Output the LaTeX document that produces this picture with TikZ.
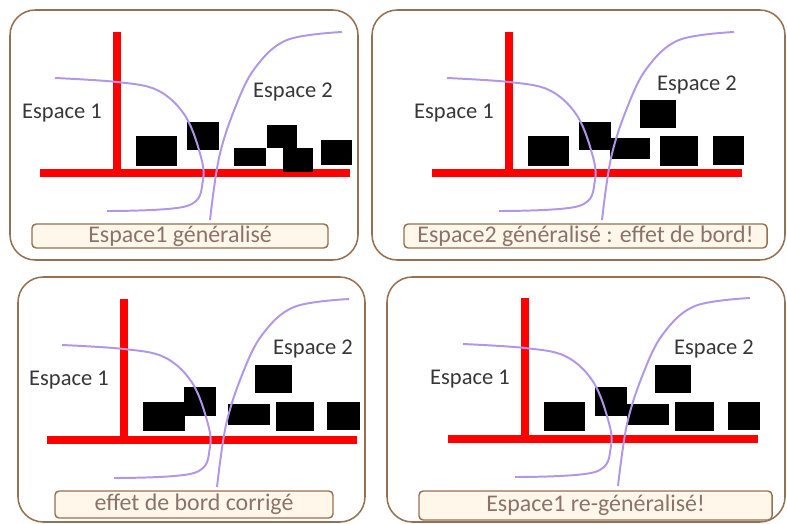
\documentclass[tikz,border=0pt]{standalone}
\usepackage{fontspec}
\setmainfont{Carlito}
\usepackage{tikz}
\definecolor{framebrown}{RGB}{150,112,82}
\definecolor{labeltext}{RGB}{140,115,105}
\definecolor{labelfill}{RGB}{255,247,234}
\definecolor{curvelilac}{RGB}{178,150,232}
\definecolor{espacegray}{RGB}{55,55,55}

\begin{document}
\begin{tikzpicture}[x=0.025cm, y=-0.025cm,
        frame/.style={draw=framebrown, line width=1.1pt, rounded corners=18pt},
        axis/.style={draw=red, line width=5.3pt},
        block/.style={fill=black},
        curve/.style={draw=curvelilac, line width=1.4pt},
        espace/.style={font=\fontsize{16}{18}\selectfont, text=espacegray, inner sep=0pt},
        labelbox/.style={draw=framebrown, fill=labelfill, rounded corners=3pt,
                         line width=1pt, inner sep=0pt, text=labeltext,
                         font=\fontsize{17}{19}\selectfont},
    ]
        \useasboundingbox (0,0) rectangle (787,524);

        % Frames
        \draw[frame] (10,10)   rectangle (358,260);
        \draw[frame] (372,10)  rectangle (785,260);
        \draw[frame] (18,277)  rectangle (365,522);
        \draw[frame] (387,277) rectangle (785,522);

        % Axes
        \foreach \sx/\sy in {0/0, 392/0, 7/267, 408/266} {
            \begin{scope}[shift={(\sx,\sy)}]
                \draw[axis] (117,32) -- (117,170);
                \draw[axis] (40,173) -- (350,173);
            \end{scope}
        }

        % Blocks
        \begin{scope}
            \fill[block] (136,136) rectangle (177,166);
            \fill[block] (187,122) rectangle (219,150);
            \fill[block] (234,148) rectangle (266,166);
            \fill[block] (267,125) rectangle (297,148);
            \fill[block] (283,148) rectangle (313,172);
            \fill[block] (321,140) rectangle (352,165);
        \end{scope}
        \begin{scope}[shift={(392,0)}]
            \fill[block] (136,136) rectangle (177,166);
            \fill[block] (187,122) rectangle (219,150);
            \fill[block] (218,138) rectangle (258,159);
            \fill[block] (248,100) rectangle (284,128);
            \fill[block] (268,136) rectangle (306,166);
            \fill[block] (321,136) rectangle (352,165);
        \end{scope}
        \begin{scope}[shift={(7,267)}]
            \fill[block] (136,135) rectangle (178,164);
            \fill[block] (177,120) rectangle (209,149);
            \fill[block] (221,137) rectangle (263,158);
            \fill[block] (248,98)  rectangle (285,126);
            \fill[block] (269,135) rectangle (307,164);
            \fill[block] (320,135) rectangle (353,163);
        \end{scope}
        \begin{scope}[shift={(408,266)}]
            \fill[block] (136,136) rectangle (177,165);
            \fill[block] (187,121) rectangle (219,150);
            \fill[block] (219,138) rectangle (261,159);
            \fill[block] (247,99)  rectangle (283,127);
            \fill[block] (267,136) rectangle (306,165);
            \fill[block] (320,136) rectangle (352,164);
        \end{scope}

        % Curves and texts
        \foreach \sx/\sy/\ex/\ey [count=\i] in {0/0/293/92, 392/0/305/85, 7/267/306/82, 408/266/306/83} {
            \begin{scope}[shift={(\sx,\sy)}]
                \draw[curve] plot[smooth, tension=0.6] coordinates
                    {(55,78) (117,82) (157,90) (184,114) (199,150) (203,180) (187,206) (107,211)};
                \draw[curve] plot[smooth, tension=0.6] coordinates
                    {(342,32) (287,40) (255,68) (235,108) (219,158) (210,220)};
                \node[espace] (espA-\i) at (62,113) {Espace 1};
                \node[espace] (espB-\i) at (\ex,\ey) {Espace 2};
            \end{scope}
        }

        % Labels
        \node[labelbox, minimum width=7.4cm, minimum height=0.6cm] (lab1) at (180,236)
              {Espace1 généralisé};
        \node[labelbox, minimum width=9.075cm, minimum height=0.6cm] (lab2) at (585.5,236)
              {Espace2 généralisé : effet de bord!};
        \node[labelbox, minimum width=6.95cm, minimum height=0.675cm] (lab3) at (194,504.5)
              {effet de bord corrigé};
        \node[labelbox, minimum width=8.825cm, minimum height=0.725cm] (lab4) at (595.5,505.5)
              {Espace1 re-généralisé!};
    \end{tikzpicture}
\end{document}
